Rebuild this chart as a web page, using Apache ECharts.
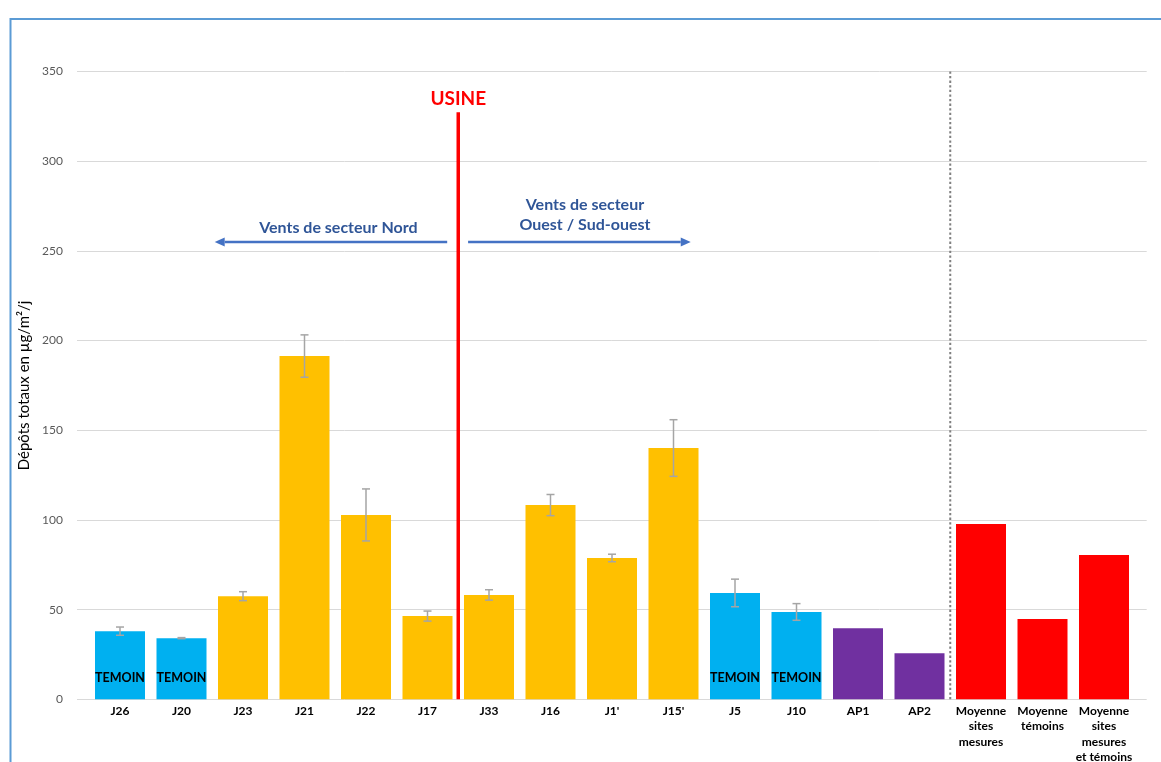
<!DOCTYPE html>
<html>
<head>
<meta charset="utf-8">
<script src="https://cdn.jsdelivr.net/npm/echarts@6/dist/echarts.min.js"></script>
<style>
  html, body { margin: 0; padding: 0; background: #fff; }
  #chart { width: 1161px; height: 762px; }
</style>
</head>
<body>
<div id="chart"></div>
<script>
// Sites de prélèvement (ordre de l'axe)
const categories = ['J26', 'J20', 'J23', 'J21', 'J22', 'J17', 'J33', 'J16', "J1'", "J15'",
  'J5', 'J10', 'AP1', 'AP2', 'Moyenne\nsites\nmesures', 'Moyenne\ntémoins',
  'Moyenne\nsites\nmesures\net témoins'];

// Dépôts totaux (µg/m²/j)
const depots = [38.0, 34.1, 57.5, 191.4, 102.8, 46.4, 58.2, 108.3, 78.8, 140.1,
  59.3, 48.7, 39.6, 25.7, 97.8, 44.8, 80.5];

// Écart-type associé (null : pas de barre d'erreur)
const ecartType = [2.3, 0.3, 2.5, 11.8, 14.5, 2.8, 2.9, 5.9, 2.1, 15.8,
  7.7, 4.65, null, null, null, null, null];

// Type de site
const typeSite = ['temoin', 'temoin', 'site', 'site', 'site', 'site', 'site', 'site', 'site', 'site',
  'temoin', 'temoin', 'ap', 'ap', 'moyenne', 'moyenne', 'moyenne'];

// Graduations de l'axe des dépôts
const yMin = 0, yMax = 350, yStep = 50;

// Repères : usine, séparation des moyennes, secteurs de vent (en rang de site / µg/m²/j)
const usine = { x: 5.5, top: 327.3, label: 'USINE', labelY: 335 };
const separationX = 13.5;
const ventsNord = { from: 5.32, to: 1.54, y: 255, label: 'Vents de secteur Nord', labelX: 3.55, labelY: 263 };
const ventsOuest = { from: 5.66, to: 9.28, y: 255, label: 'Vents de secteur\nOuest / Sud-ouest', labelX: 7.56, labelY: 270 };

const couleurs = { temoin: '#00B0F0', site: '#FFC000', ap: '#7030A0', moyenne: '#FF0000' };
const FONT = 'Lato, "Open Sans", sans-serif';

const barData = depots.map((v, i) => ({
  value: v,
  itemStyle: { color: couleurs[typeSite[i]] },
  label: typeSite[i] === 'temoin' ? {
    show: true, formatter: 'TEMOIN', position: 'insideBottom', distance: 15,
    color: '#000', fontWeight: 'bold', fontSize: 12.5, fontFamily: FONT
  } : { show: false }
}));

const errData = [];
depots.forEach((v, i) => {
  if (ecartType[i] != null) errData.push([i, v - ecartType[i], v + ecartType[i]]);
});

// Repères dessinés dans le repère des données
const reperes = [
  { kind: 'usine', pts: [[usine.x, 0], [usine.x, usine.top]] },
  { kind: 'sep', pts: [[separationX, yMin], [separationX, yMax]] },
  { kind: 'fleche', pts: [[ventsNord.from, ventsNord.y], [ventsNord.to, ventsNord.y]] },
  { kind: 'fleche', pts: [[ventsOuest.from, ventsOuest.y], [ventsOuest.to, ventsOuest.y]] },
  { kind: 'texteUsine', pts: [[usine.x, usine.labelY]], text: usine.label },
  { kind: 'texteVent', pts: [[ventsNord.labelX, ventsNord.labelY]], text: ventsNord.label },
  { kind: 'texteVent', pts: [[ventsOuest.labelX, ventsOuest.labelY]], text: ventsOuest.label }
];

const chart = echarts.init(document.getElementById('chart'), null, { renderer: 'canvas' });

const gridTop = 71.6, gridBottom = 62.7;

chart.setOption({
  animation: false,
  backgroundColor: '#fff',
  textStyle: { fontFamily: FONT },
  graphic: [{
    type: 'rect', silent: true,
    shape: { x: 10.5, y: 19, width: 1400, height: 1000 },
    style: { fill: null, stroke: '#5B9BD5', lineWidth: 2 }
  }],
  grid: [
    { left: 89.25, right: 26.25, top: gridTop, bottom: gridBottom, containLabel: false, outerBoundsMode: 'none' },
    { left: 77, right: 14.3, top: gridTop, bottom: gridBottom, containLabel: false, outerBoundsMode: 'none' }
  ],
  xAxis: [
    {
      type: 'category', gridIndex: 0, data: categories,
      axisLine: { show: false }, axisTick: { show: false },
      axisLabel: {
        interval: 0, margin: 4, color: '#000', fontWeight: 'bold', fontSize: 12,
        lineHeight: 15.5, fontFamily: FONT, hideOverlap: false
      }
    },
    { type: 'value', gridIndex: 0, min: -0.5, max: categories.length - 0.5, show: false },
    { type: 'value', gridIndex: 1, min: 0, max: 1, show: false }
  ],
  yAxis: [
    {
      type: 'value', gridIndex: 0, min: yMin, max: yMax, interval: yStep,
      axisLine: { show: false }, axisTick: { show: false },
      axisLabel: { show: false }, splitLine: { show: false }
    },
    {
      type: 'value', gridIndex: 1, min: yMin, max: yMax, interval: yStep,
      axisLine: { show: false }, axisTick: { show: false },
      axisLabel: { color: '#595959', fontSize: 12, margin: 14, fontFamily: FONT },
      splitLine: { lineStyle: { color: '#D9D9D9', width: 1 } },
      name: 'Dépôts totaux en µg/m²/j', nameLocation: 'middle', nameGap: 42,
      nameTextStyle: { color: '#000', fontSize: 15, fontFamily: FONT }
    }
  ],
  series: [
    {
      type: 'bar', xAxisIndex: 0, yAxisIndex: 0, barWidth: 50, data: barData, z: 2
    },
    {
      type: 'custom', xAxisIndex: 0, yAxisIndex: 0, z: 3,
      encode: { x: 0, y: [1, 2] },
      data: errData,
      renderItem: function (params, api) {
        const lo = api.coord([api.value(0), api.value(1)]);
        const hi = api.coord([api.value(0), api.value(2)]);
        const w = 4;
        const st = { stroke: '#A5A5A5', lineWidth: 1.5 };
        return {
          type: 'group',
          children: [
            { type: 'line', shape: { x1: lo[0], y1: lo[1], x2: hi[0], y2: hi[1] }, style: st },
            { type: 'line', shape: { x1: lo[0] - w, y1: lo[1], x2: lo[0] + w, y2: lo[1] }, style: st },
            { type: 'line', shape: { x1: hi[0] - w, y1: hi[1], x2: hi[0] + w, y2: hi[1] }, style: st }
          ]
        };
      }
    },
    {
      type: 'custom', xAxisIndex: 1, yAxisIndex: 0, z: 4, silent: true,
      data: reperes.map(r => r.pts[0]),
      renderItem: function (params, api) {
        const r = reperes[params.dataIndex];
        const p = r.pts.map(pt => api.coord(pt));
        if (r.kind === 'usine') {
          return { type: 'line', shape: { x1: p[0][0], y1: p[0][1], x2: p[1][0], y2: p[1][1] },
            style: { stroke: '#FF0000', lineWidth: 3.5 } };
        }
        if (r.kind === 'sep') {
          return { type: 'line', shape: { x1: p[0][0], y1: p[0][1], x2: p[1][0], y2: p[1][1] },
            style: { stroke: '#808080', lineWidth: 2, lineDash: [2.3, 2.3] } };
        }
        if (r.kind === 'fleche') {
          const dir = Math.sign(p[1][0] - p[0][0]);
          const head = 10, half = 4.5;
          const baseX = p[1][0] - dir * head;
          return {
            type: 'group',
            children: [
              { type: 'line', shape: { x1: p[0][0], y1: p[0][1], x2: baseX, y2: p[1][1] },
                style: { stroke: '#4472C4', lineWidth: 2.5 } },
              { type: 'polygon', shape: { points: [[p[1][0], p[1][1]], [baseX, p[1][1] - half], [baseX, p[1][1] + half]] },
                style: { fill: '#4472C4' } }
            ]
          };
        }
        if (r.kind === 'texteUsine') {
          return { type: 'text', x: p[0][0], y: p[0][1],
            style: { text: r.text, fill: '#FF0000', font: 'bold 19px ' + FONT, align: 'center', verticalAlign: 'middle' } };
        }
        return { type: 'text', x: p[0][0], y: p[0][1],
          style: { text: r.text, fill: '#2F5597', font: 'bold 16px ' + FONT, align: 'center',
            verticalAlign: 'middle', lineHeight: 20 } };
      }
    }
  ]
});
</script>
</body>
</html>
